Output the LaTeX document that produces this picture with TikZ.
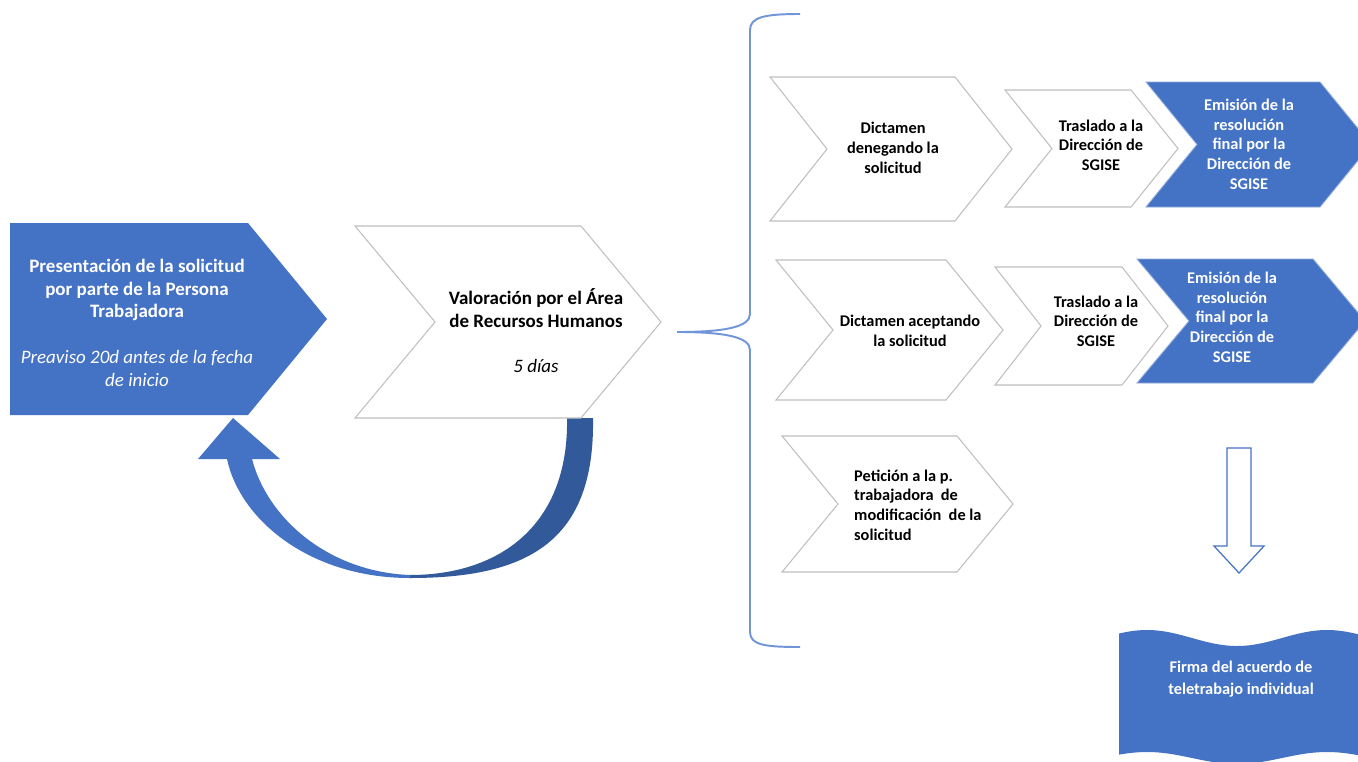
\documentclass[tikz,border=0pt]{standalone}
\usepackage{fontspec}
\setmainfont{Carlito}
\usetikzlibrary{positioning}

\definecolor{ofblue}{HTML}{4472C4}
\definecolor{ofdark}{HTML}{325A9B}
\definecolor{ofgray}{HTML}{BFBFBF}
\definecolor{bracecol}{HTML}{7095D8}

% chevron: style, left, top, tip x, bottom, depth
\newcommand{\chevron}[6]{%
  \draw[#1] (#2,#3) -- ({#4-#6},#3) -- (#4,{(#3+#5)/2}) -- ({#4-#6},#5)
    -- (#2,#5) -- ({#2+#6},{(#3+#5)/2}) -- cycle;}

\begin{document}
\begin{tikzpicture}[
  x=0.02cm, y=-0.02cm,
  chev/.style={draw=ofgray, fill=white, line width=0.6pt},
  chevblue/.style={draw=ofblue!60!white, fill=ofblue, line width=0.5pt},
  bigtxt/.style={font=\fontsize{10.8}{12.8}\selectfont\bfseries, align=center},
  smalltxt/.style={font=\fontsize{9.3}{11.2}\selectfont\bfseries, align=center}
]
\useasboundingbox (0,0) rectangle (1358,761);
\fill[white] (0,0) rectangle (1358,761);
\clip (0,0) rectangle (1358,761);

% first step
\fill[ofblue] (10,223) -- (248,223) -- (327,319) -- (248,415) -- (10,415) -- cycle;
\node[bigtxt, text=white] (pres) at (137,323)
  {Presentación de la solicitud\\por parte de la Persona\\Trabajadora\\[13.5pt]
   {\normalfont\itshape Preaviso 20d antes de la fecha}\\{\normalfont\itshape de inicio}};

% return arrow
\fill[ofdark] (593,418) .. controls (595,540) and (530,578) .. (410,578)
  -- (410,575) .. controls (500,575) and (569,525) .. (567,418) -- cycle;
\fill[ofblue] (410,578) .. controls (310,578) and (240,520) .. (227,459)
  -- (198,459) -- (233,418) -- (280,459) -- (252,459)
  .. controls (268,520) and (330,572) .. (410,575) -- cycle;

% valoracion
\chevron{chev}{355}{226}{661}{418}{80}
\node[bigtxt] (valor) at (536,331)
  {Valoración por el Área\\de Recursos Humanos\\[13pt]{\normalfont\itshape 5 días}};

% brace
\draw[bracecol, line width=1.1pt] (800,14) .. controls (765,14) and (750,17) .. (750,30)
  -- (750,314) .. controls (750,327) and (725,332) .. (677,332)
  .. controls (725,332) and (750,337) .. (750,350)
  -- (750,632) .. controls (750,645) and (765,647) .. (800,647);

% row 1
\chevron{chev}{770}{77}{1012}{221}{57}
\node[smalltxt] (deneg) at (893,148) {Dictamen\\denegando la\\solicitud};
\chevron{chev}{1005}{90}{1178}{207}{47}
\node[smalltxt] (trasA) at (1101,145) {Traslado a la\\Dirección de\\SGISE};
\chevron{chevblue}{1146}{82}{1371}{207}{51}
\node[smalltxt, text=white] (emiA) at (1249,144)
  {Emisión de la\\resolución\\final por la\\Dirección de\\SGISE};

% row 2
\chevron{chev}{776}{260}{1003}{400}{57}
\node[smalltxt] (acept) at (910,331) {Dictamen aceptando\\la solicitud};
\chevron{chev}{995}{267}{1168}{385}{46}
\node[smalltxt] (trasB) at (1096,321) {Traslado a la\\Dirección de\\SGISE};
\chevron{chevblue}{1137}{259}{1365}{383}{52}
\node[smalltxt, text=white] (emiB) at (1232,317)
  {Emisión de la\\resolución\\final por la\\Dirección de\\SGISE};

% row 3
\chevron{chev}{782}{436}{1013}{572}{56}
\node[smalltxt, align=left, anchor=west] (peti) at (848,505)
  {Petición a la p.\\trabajadora\ \ de\\modificación\ \ de la\\solicitud};

% down arrow
\draw[ofblue, fill=white, line width=0.7pt] (1227,448) -- (1251,448) -- (1251,546)
  -- (1264,546) -- (1239,573) -- (1214,546) -- (1227,546) -- cycle;

% final banner
\fill[ofblue] plot[domain=1119:1375, samples=80] (\x,{638-8*cos((\x-1147)/180*360)})
  -- plot[domain=1375:1119, samples=80] (\x,{758-6*cos((\x-1147)/180*360)}) -- cycle;
\node[smalltxt, text=white, font=\fontsize{9.3}{12.4}\selectfont\bfseries] (firma) at (1241,679)
  {Firma del acuerdo de\\teletrabajo individual};
\end{tikzpicture}
\end{document}
